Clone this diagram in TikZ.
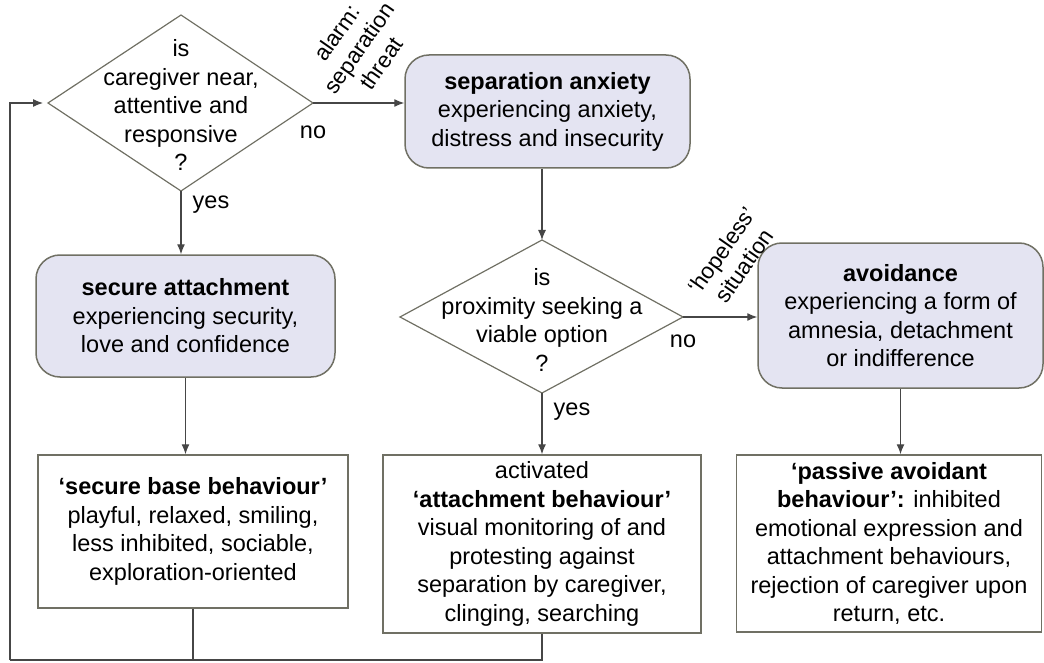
\documentclass[tikz,border=0pt]{standalone}
\usepackage{fontspec}
\setmainfont{Liberation Sans}
\usetikzlibrary{arrows.meta}
\definecolor{boxfill}{RGB}{228,228,242}
\definecolor{edge}{RGB}{112,112,100}
\definecolor{wire}{RGB}{70,70,70}
\begin{document}
\begin{tikzpicture}[x=1pt,y=-1pt,
  txt/.style={font=\fontsize{23.5}{28.5}\selectfont, align=center, inner sep=0pt},
  rottxt/.style={font=\fontsize{22.5}{27}\selectfont, align=center, inner sep=0pt, rotate=55},
  state/.style={draw=edge, line width=1.5pt, fill=boxfill, rounded corners=24pt,
    font=\fontsize{23.5}{28.5}\selectfont, align=center, inner sep=0pt},
  behav/.style={draw=edge, line width=1.5pt, fill=white,
    font=\fontsize{23.5}{28.5}\selectfont, align=center, inner sep=0pt},
  decision/.style={draw=edge, line width=1.2pt},
  wireline/.style={draw=wire, line width=1.2pt},
  arr/.style={wireline, -{Latex[length=10pt,width=8pt]}}
]
\useasboundingbox (0,0) rectangle (1044,663);

% decision 1
\coordinate (d1n) at (181,15);
\coordinate (d1e) at (313,103);
\coordinate (d1s) at (181,191);
\coordinate (d1w) at (48,103);
\draw[decision] (d1n) -- (d1e) -- (d1s) -- (d1w) -- cycle;
\node[txt] (q1) at (181,105) {is\\caregiver near,\\attentive and\\responsive\\?};

% decision 2
\coordinate (d2n) at (542,240);
\coordinate (d2e) at (683,317);
\coordinate (d2s) at (542,393);
\coordinate (d2w) at (400,317);
\draw[decision] (d2n) -- (d2e) -- (d2s) -- (d2w) -- cycle;
\node[txt] (q2) at (542,320) {is\\proximity seeking a\\viable option\\?};

% state boxes
\node[state, minimum width=285pt, minimum height=113pt] (sep) at (547.5,111.5)
  {\textbf{separation anxiety}\\experiencing anxiety,\\distress and insecurity};
\node[state, minimum width=299pt, minimum height=122pt] (sa) at (185.5,316)
  {\textbf{secure attachment}\\experiencing security,\\love and confidence};
\node[state, minimum width=285pt, minimum height=145pt] (av) at (900.5,315.5)
  {\textbf{avoidance}\\experiencing a form of\\amnesia, detachment\\or indifference};

% behaviour boxes
\node[behav, minimum width=310pt, minimum height=153pt] (sbb) at (193,531.5)
  {\textbf{‘secure base behaviour’}\\playful, relaxed, smiling,\\less inhibited, sociable,\\exploration-oriented};
\node[behav, minimum width=318pt, minimum height=178pt] (ab) at (542,544)
  {activated\\\textbf{‘attachment behaviour’}\\visual monitoring of and\\protesting against\\separation by caregiver,\\clinging, searching};
\node[behav, minimum width=305pt, minimum height=177pt] (pab) at (889,543.5)
  {\textbf{‘passive avoidant}\\\textbf{behaviour’:} inhibited\\emotional expression and\\attachment behaviours,\\rejection of caregiver upon\\return, etc.};

% labels
\node[rottxt] (alarm) at (359,48) {alarm:\\separation\\threat};
\node[rottxt] (hope) at (733,258) {‘hopeless’\\situation};
\node[txt] (no1) at (313,132) {no};
\node[txt] (yes1) at (211,205) {yes};
\node[txt] (no2) at (683,341) {no};
\node[txt] (yes2) at (572,412) {yes};

% connectors
\draw[arr] (d1e) -- (sep.west |- d1e);
\draw[arr] (d1s) -- (sa.north -| d1s);
\draw[arr] (sa.south) -- (sbb.north -| sa.south);
\draw[arr] (sep.south -| d2n) -- (d2n);
\draw[arr] (d2e) -- (av.west |- d2e);
\draw[arr] (d2s) -- (ab.north -| d2s);
\draw[arr] (av.south) -- (pab.north -| av.south);

\coordinate (lc) at (10,660);
\draw[wireline] (ab.south) -- (ab.south |- lc) -- (lc);
\draw[wireline] (sbb.south) -- (sbb.south |- lc);
\draw[arr] (lc) -- (lc |- d1w) -- ([xshift=-5pt]d1w);
\end{tikzpicture}
\end{document}
